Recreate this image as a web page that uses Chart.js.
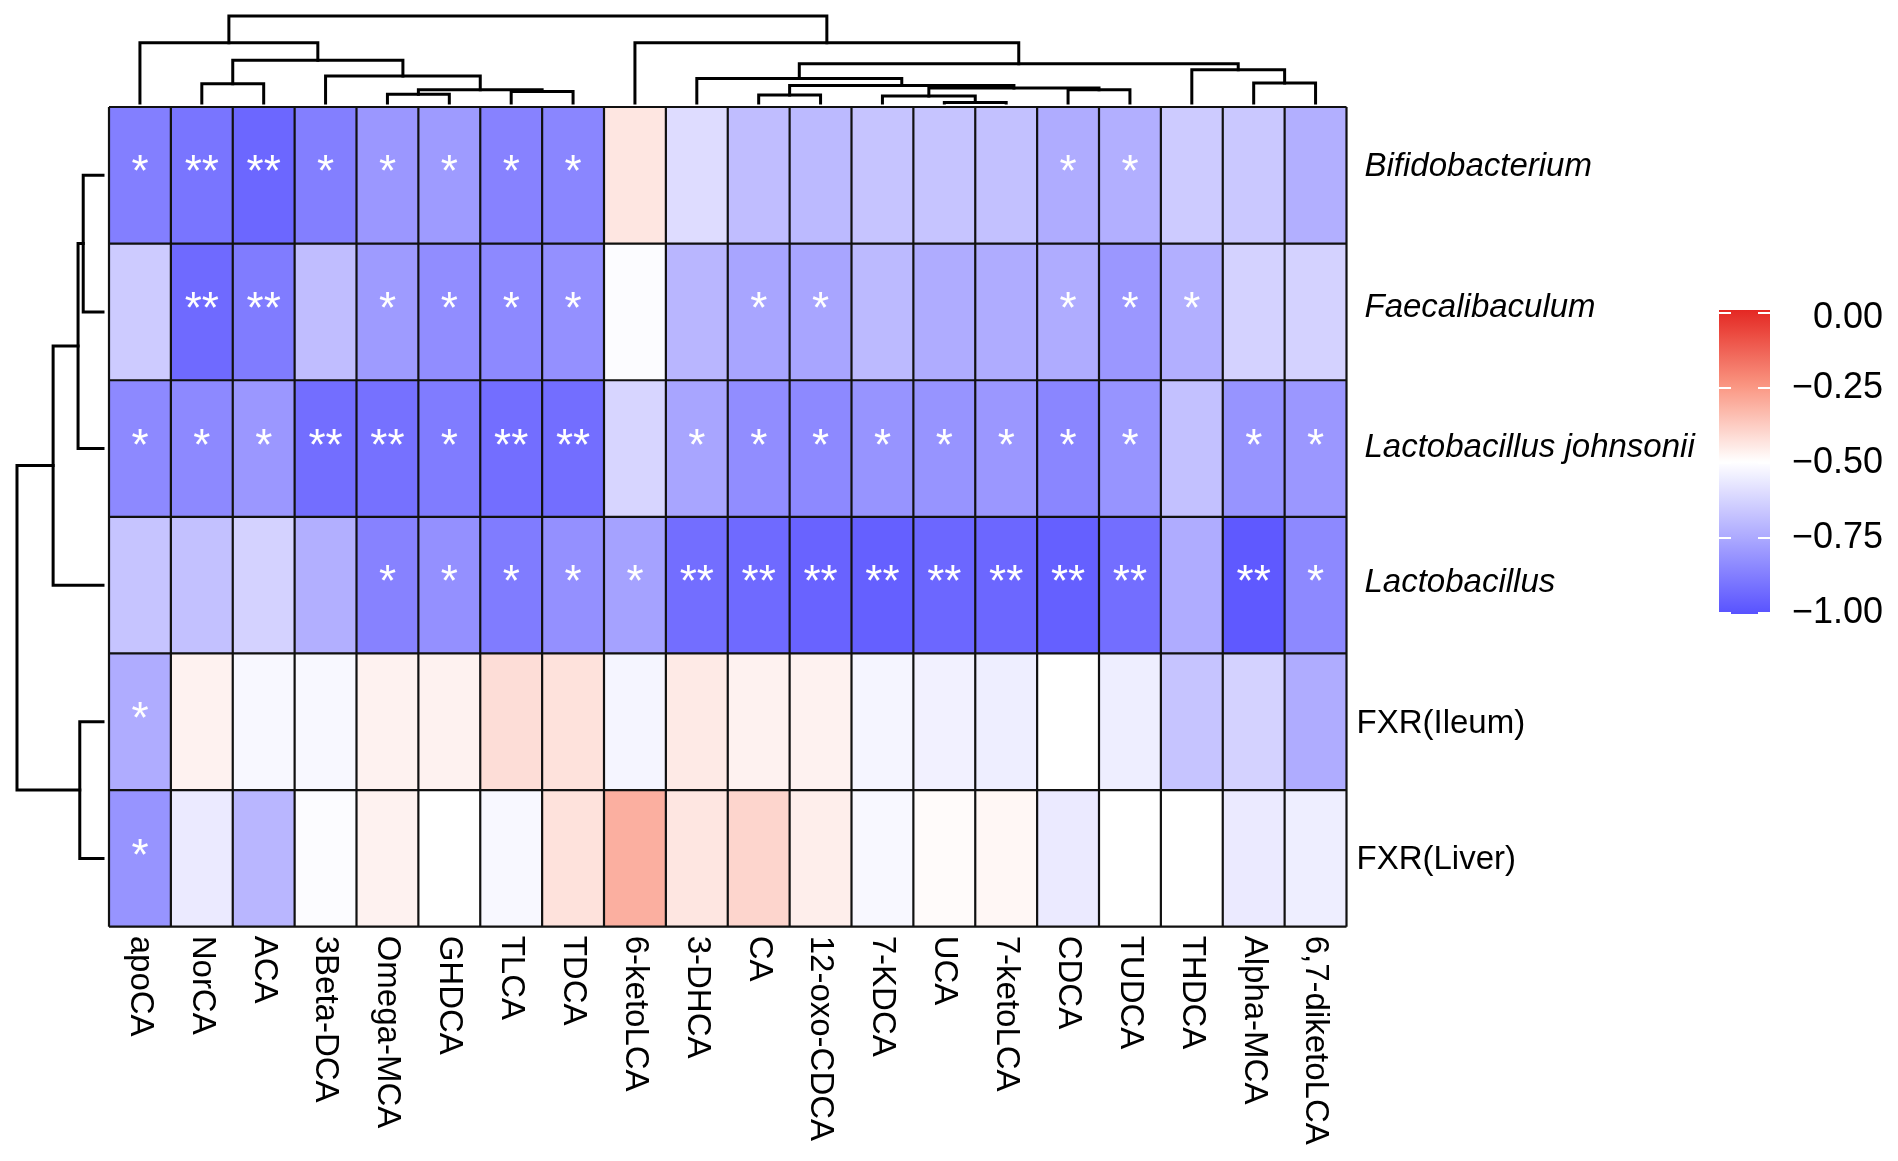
<!DOCTYPE html>
<html>
<head>
<meta charset="utf-8">
<script src="https://cdn.jsdelivr.net/npm/chart.js@4.4.1/dist/chart.umd.min.js"></script>
<style>
  html, body { margin: 0; padding: 0; background: #ffffff; }
  #wrap { width: 1898px; height: 1161px; }
</style>
</head>
<body>
<div id="wrap"><canvas id="heat" width="1898" height="1161"></canvas></div>
<script>
// columns (bile acids) in display order
const bileAcids = ['apoCA', 'NorCA', 'ACA', '3Beta-DCA', 'Omega-MCA', 'GHDCA', 'TLCA', 'TDCA',
  '6-ketoLCA', '3-DHCA', 'CA', '12-oxo-CDCA', '7-KDCA', 'UCA', '7-ketoLCA', 'CDCA', 'TUDCA',
  'THDCA', 'Alpha-MCA', '6,7-diketoLCA'];

// rows in display order
const rowNames = ['Bifidobacterium', 'Faecalibaculum', 'Lactobacillus johnsonii', 'Lactobacillus', 'FXR(Ileum)', 'FXR(Liver)'];
const rowItalic = [true, true, true, true, false, false];

// correlation values per row
const bifidobacterium = [-0.87, -0.90, -0.94, -0.87, -0.80, -0.79, -0.86, -0.85, -0.44, -0.60, -0.69, -0.70, -0.67, -0.67, -0.68, -0.74, -0.73, -0.65, -0.66, -0.73];
const faecalibaculum = [-0.65, -0.93, -0.88, -0.69, -0.79, -0.83, -0.84, -0.82, -0.51, -0.71, -0.76, -0.76, -0.70, -0.74, -0.74, -0.74, -0.80, -0.73, -0.63, -0.63];
const lJohnsonii = [-0.84, -0.84, -0.80, -0.92, -0.91, -0.88, -0.92, -0.92, -0.62, -0.76, -0.83, -0.84, -0.81, -0.81, -0.80, -0.85, -0.81, -0.68, -0.81, -0.80];
const lactobacillus = [-0.67, -0.68, -0.63, -0.73, -0.86, -0.82, -0.88, -0.82, -0.77, -0.92, -0.93, -0.95, -0.96, -0.94, -0.94, -0.96, -0.92, -0.74, -0.98, -0.84];
const fxrIleum = [-0.74, -0.47, -0.52, -0.52, -0.47, -0.47, -0.42, -0.43, -0.53, -0.45, -0.47, -0.47, -0.53, -0.54, -0.55, -0.50, -0.55, -0.67, -0.63, -0.74];
const fxrLiver = [-0.81, -0.56, -0.71, -0.51, -0.47, -0.50, -0.52, -0.43, -0.31, -0.44, -0.40, -0.46, -0.52, -0.49, -0.48, -0.56, -0.50, -0.50, -0.56, -0.55];

// significance marks per row
const starsBifido = ['*', '**', '**', '*', '*', '*', '*', '*', '', '', '', '', '', '', '', '*', '*', '', '', ''];
const starsFaecal = ['', '**', '**', '', '*', '*', '*', '*', '', '', '*', '*', '', '', '', '*', '*', '*', '', ''];
const starsJohnsonii = ['*', '*', '*', '**', '**', '*', '**', '**', '', '*', '*', '*', '*', '*', '*', '*', '*', '', '*', '*'];
const starsLacto = ['', '', '', '', '*', '*', '*', '*', '*', '**', '**', '**', '**', '**', '**', '**', '**', '', '**', '*'];
const starsIleum = ['*', '', '', '', '', '', '', '', '', '', '', '', '', '', '', '', '', '', '', ''];
const starsLiver = ['*', '', '', '', '', '', '', '', '', '', '', '', '', '', '', '', '', '', '', ''];

// column dendrogram: hclust-style merges (negative = leaf position) and heights (root = 1)
const colMerges = [[-2, -3], [-5, -6], [-7, -8], [2, 3], [-4, 4], [1, 5], [-1, 6],
  [-14, -15], [-13, 8], [-16, -17], [9, 10], [-11, -12], [12, 11], [-10, 13],
  [-19, -20], [-18, 15], [14, 16], [-9, 17], [7, 18]];
const colHeights = [0.22, 0.10, 0.13, 0.15, 0.31, 0.49, 0.69,
  0.005, 0.08, 0.15, 0.17, 0.09, 0.20, 0.28,
  0.23, 0.38, 0.45, 0.69, 1.0];

// row dendrogram
const rowMerges = [[-1, -2], [1, -3], [2, -4], [-5, -6], [3, 4]];
const rowHeights = [0.23, 0.29, 0.58, 0.27, 1.0];

// legend
const legendTicks = [0, -0.25, -0.5, -0.75, -1];
const legendLabels = ['0.00', '\u22120.25', '\u22120.50', '\u22120.75', '\u22121.00'];

const values = [bifidobacterium, faecalibaculum, lJohnsonii, lactobacillus, fxrIleum, fxrLiver];
const stars = [starsBifido, starsFaecal, starsJohnsonii, starsLacto, starsIleum, starsLiver];

const FONT = '"Liberation Sans", Arial, Helvetica, sans-serif';
// colour stops along [-1, 0]
const rampStops = [-1, -0.5, -0.25, 0];
const rampColours = [[88, 82, 255], [255, 255, 255], [250, 150, 130], [228, 40, 35]];

function colourFor(v) {
  v = Math.max(-1, Math.min(0, v));
  let i = 0;
  while (i < rampStops.length - 2 && v > rampStops[i + 1]) i++;
  const f = (v - rampStops[i]) / (rampStops[i + 1] - rampStops[i]);
  const a = rampColours[i], b = rampColours[i + 1];
  const c = a.map((x, k) => Math.round(x + (b[k] - x) * f));
  return `rgb(${c[0]},${c[1]},${c[2]})`;
}

function buildLinks(merges, heights) {
  const pos = [];
  const posOf = id => id < 0 ? (-id - 1) + 0.5 : pos[id - 1];
  const hOf = id => id < 0 ? 0 : heights[id - 1];
  return merges.map(([a, b], i) => {
    const pa = posOf(a), pb = posOf(b);
    pos[i] = (pa + pb) / 2;
    return { pa, pb, ha: hOf(a), hb: hOf(b), h: heights[i] };
  });
}

// dendrograms in data units (columns / rows)
const topY = h => -(0.03 + h * 0.637);
const leftX = h => -(0.097 + h * 1.39);

const dendroSets = [];
buildLinks(colMerges, colHeights).forEach(l => {
  dendroSets.push({
    data: [{ x: l.pa, y: topY(l.ha) }, { x: l.pa, y: topY(l.h) }, { x: l.pb, y: topY(l.h) }, { x: l.pb, y: topY(l.hb) }]
  });
});
buildLinks(rowMerges, rowHeights).forEach(l => {
  dendroSets.push({
    data: [{ x: leftX(l.ha), y: l.pa }, { x: leftX(l.h), y: l.pa }, { x: leftX(l.h), y: l.pb }, { x: leftX(l.hb), y: l.pb }]
  });
});
dendroSets.forEach(d => Object.assign(d, {
  showLine: true, borderColor: '#000', borderWidth: 3, pointRadius: 0,
  clip: false, tension: 0, borderJoinStyle: 'miter', borderCapStyle: 'square'
}));

// small vertical nudges of the row labels, as placed in the original figure
const rowLabelShift = [-8, -4, -1, -2, 2, 2];

const heatmapPlugin = {
  id: 'heatmap',
  beforeDatasetsDraw(chart) {
    const { ctx, scales: { x, y } } = chart;
    ctx.save();
    values.forEach((row, r) => {
      row.forEach((v, c) => {
        const x0 = x.getPixelForValue(c), x1 = x.getPixelForValue(c + 1);
        const y0 = y.getPixelForValue(r), y1 = y.getPixelForValue(r + 1);
        ctx.fillStyle = colourFor(v);
        ctx.fillRect(x0, y0, x1 - x0, y1 - y0);
      });
    });
    // cell borders
    ctx.strokeStyle = '#111';
    ctx.lineWidth = 2.2;
    ctx.beginPath();
    for (let c = 0; c <= bileAcids.length; c++) {
      const px = x.getPixelForValue(c);
      ctx.moveTo(px, y.getPixelForValue(0));
      ctx.lineTo(px, y.getPixelForValue(rowNames.length));
    }
    for (let r = 0; r <= rowNames.length; r++) {
      const py = y.getPixelForValue(r);
      ctx.moveTo(x.getPixelForValue(0), py);
      ctx.lineTo(x.getPixelForValue(bileAcids.length), py);
    }
    ctx.stroke();
    ctx.restore();
  },
  afterDatasetsDraw(chart) {
    const { ctx, scales: { x, y } } = chart;
    ctx.save();
    // significance stars
    ctx.fillStyle = '#fff';
    ctx.font = `44px ${FONT}`;
    ctx.textAlign = 'center';
    ctx.textBaseline = 'middle';
    stars.forEach((row, r) => row.forEach((s, c) => {
      if (!s) return;
      ctx.fillText(s, x.getPixelForValue(c + 0.5), y.getPixelForValue(r + 0.5) - 1);
    }));

    // row labels
    ctx.fillStyle = '#000';
    ctx.textAlign = 'left';
    const right = x.getPixelForValue(bileAcids.length);
    rowNames.forEach((name, r) => {
      const it = rowItalic[r];
      ctx.font = `${it ? 'italic ' : ''}33px ${FONT}`;
      ctx.fillText(name, right + (it ? 18 : 10), y.getPixelForValue(r + 0.5) + rowLabelShift[r]);
    });

    // column labels, rotated to read downward
    ctx.font = `33px ${FONT}`;
    const bottom = y.getPixelForValue(rowNames.length);
    bileAcids.forEach((name, c) => {
      ctx.save();
      ctx.translate(x.getPixelForValue(c + 0.5), bottom + 9);
      ctx.rotate(Math.PI / 2);
      ctx.textAlign = 'left';
      ctx.textBaseline = 'middle';
      ctx.fillText(name, 0, 0);
      ctx.restore();
    });

    // colour key
    const barL = 1719, barR = 1770, barTop = 310, barBot = 614;
    const valY = v => 613 + (v + 1) * -300;
    const grad = ctx.createLinearGradient(0, barBot, 0, barTop);
    for (let i = 0; i <= 40; i++) grad.addColorStop(i / 40, colourFor(-1 + i / 40));
    ctx.fillStyle = grad;
    ctx.fillRect(barL, barTop, barR - barL, barBot - barTop);
    ctx.strokeStyle = '#fff';
    ctx.lineWidth = 2;
    legendTicks.forEach(v => {
      const py = Math.min(barBot - 1, Math.max(barTop + 1, valY(v)));
      ctx.beginPath();
      ctx.moveTo(barL, py); ctx.lineTo(barL + 12, py);
      ctx.moveTo(barR - 12, py); ctx.lineTo(barR, py);
      ctx.stroke();
    });
    ctx.fillStyle = '#000';
    ctx.font = `36px ${FONT}`;
    ctx.textAlign = 'right';
    ctx.textBaseline = 'middle';
    legendTicks.forEach((v, i) => {
      const py = i === 0 ? valY(v) + 5 : valY(v);
      ctx.fillText(legendLabels[i], 1883, py);
    });
    ctx.restore();
  }
};

new Chart(document.getElementById('heat'), {
  type: 'scatter',
  data: { datasets: dendroSets },
  options: {
    responsive: false,
    animation: false,
    devicePixelRatio: 1,
    events: [],
    layout: { padding: { left: 109, top: 107, right: 551.5, bottom: 234.3 } },
    plugins: { legend: { display: false }, tooltip: { enabled: false } },
    scales: {
      x: { type: 'linear', min: 0, max: bileAcids.length, display: false },
      y: { type: 'linear', min: 0, max: rowNames.length, reverse: true, display: false }
    }
  },
  plugins: [heatmapPlugin]
});
</script>
</body>
</html>
